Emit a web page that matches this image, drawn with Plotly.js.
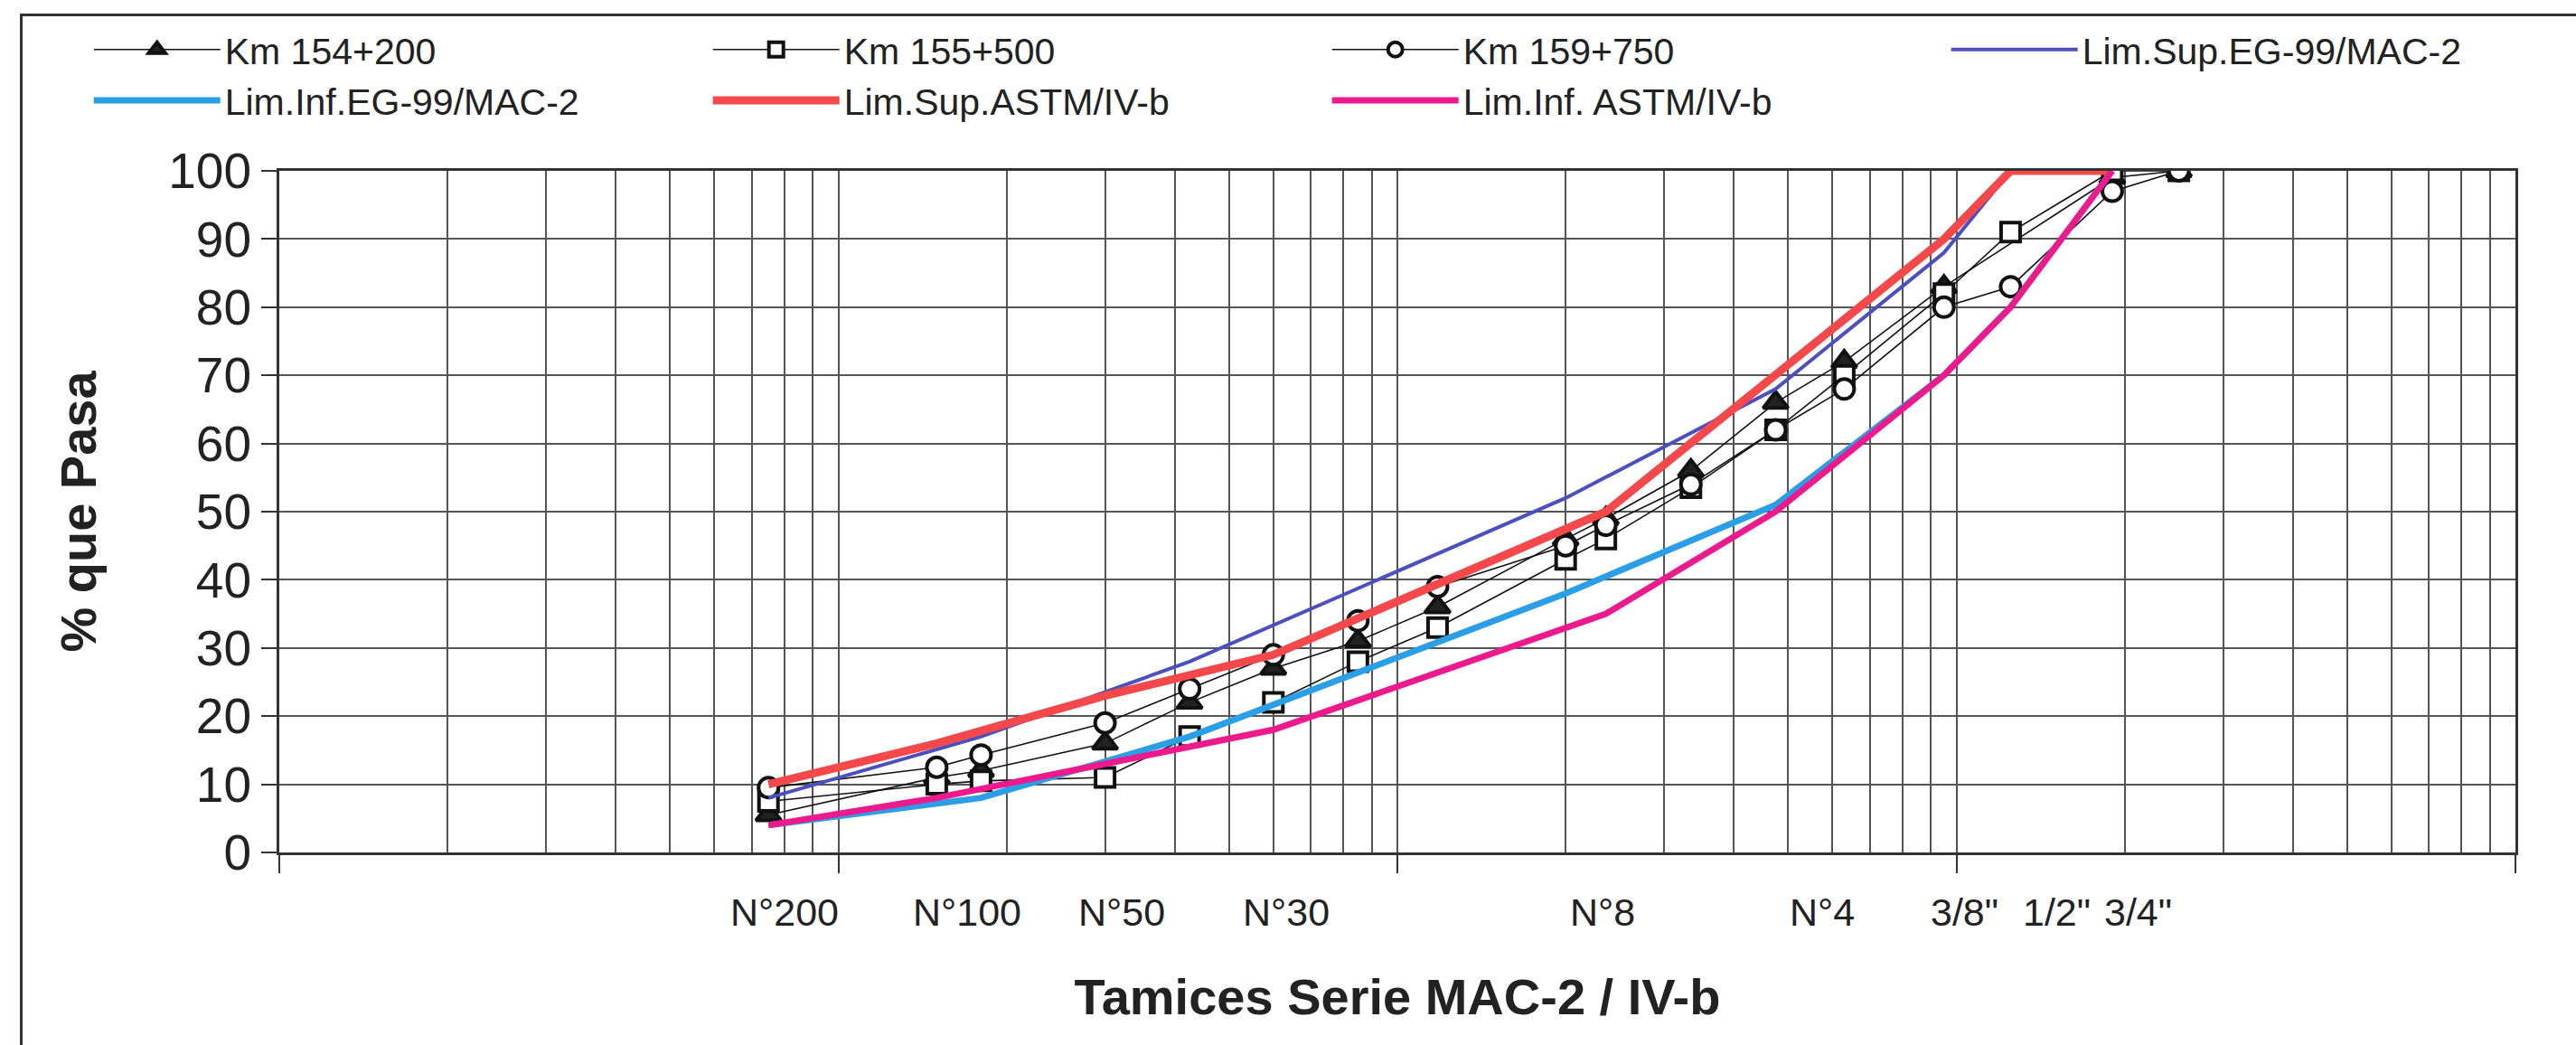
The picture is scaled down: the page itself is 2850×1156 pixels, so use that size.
<!DOCTYPE html>
<html><head><meta charset="utf-8">
<script src="https://cdn.plot.ly/plotly-3.0.1.min.js"></script>
<style>
html,body{margin:0;padding:0;background:#fff;}
#wrap{position:relative;width:2850px;height:1156px;overflow:hidden;}
#chart{width:2850px;height:1156px;}
#frame{position:absolute;left:22px;top:15px;width:2900px;height:1200px;border-left:3px solid #333;border-top:3px solid #333;pointer-events:none;}
</style></head><body>
<div id="wrap"><div id="chart"></div><div id="frame"></div></div>
<script>
// Sieve openings (mm) used by the test samples
const sieveNames = ['N°200','N°100','N°80','N°50','N°40','N°30','N°20','N°16','N°10','N°8','N°6','N°4','1/4"','3/8"','1/2"','3/4"','1"'];
const sieveMm    = [0.075, 0.15, 0.18, 0.3, 0.425, 0.6, 0.85, 1.18, 2.0, 2.36, 3.35, 4.75, 6.3, 9.5, 12.5, 19, 25];
// % passing for each sample
const km154200 = [5.5, 11, 12, 16, 22, 27, 31, 36, 46, 49, 56, 66, 72, 83, null, 99, 100];
const km155500 = [7.5, 10, 10.5, 11, 17, 22, 28, 33, 43, 46, 53.5, 62, 70, 82, 91, 100, 100];
const km159750 = [9.5, 12.5, 14.3, 19, 24, 29, 34, 39, 45, 48, 54, 62, 68, 80, 83, 97, 100];
// EG-99 MAC-2 limits
const egMm  = [0.075, 0.18, 0.425, 2.0, 4.75, 9.5, 12.5, 19];
const egSup = [8, 17, 28, 52, 68, 88, 100, 100];
const egInf = [4, 8, 17, 38, 51, 70, 80, 100];
// ASTM IV-b limits
const astmMm  = [0.075, 0.15, 0.3, 0.6, 2.36, 4.75, 9.5, 12.5, 19];
const astmSup = [10, 16, 23, 29, 50, 70, 90, 100, 100];
const astmInf = [4, 8, 13, 18, 35, 50, 70, 80, 100];
// Axis labels shown under the chart
const axisLabelText = ['N°200','N°100','N°50','N°30','N°8','N°4','3/8"','1/2"','3/4"'];
const axisLabelMm   = [0.075, 0.15, 0.3, 0.6, 2.36, 4.75, 9.5, 12.5, 19];
const yTicks = [0,10,20,30,40,50,60,70,80,90,100];

// style: horizontal nudge (px) of each hand-placed axis label
const labelNudgePx = [18, 34, 18, 14, -4, 51, 23, 51, 29];

const FONT = '"Liberation Sans", Arial, sans-serif';
const INK = '#222';

function sample(name, y, symbol, fill, size){
  return {type:'scatter', mode:'lines+markers', name:name, x:sieveMm, y:y, connectgaps:true,
    line:{color:'#111', width:1.6},
    marker:{symbol:symbol, size:size, color:fill, line:{color:'#111', width:4}}};
}
function limit(name, x, y, color, width){
  return {type:'scatter', mode:'lines', name:name, x:x, y:y, line:{color:color, width:width}};
}

const traces = [
  sample('Km 154+200', km154200, 'triangle-up', '#222', 24),
  sample('Km 155+500', km155500, 'square', '#fff', 21),
  sample('Km 159+750', km159750, 'circle', '#fff', 22),
  limit('Lim.Sup.EG-99/MAC-2', egMm, egSup, '#4b4fc0', 4),
  limit('Lim.Inf.EG-99/MAC-2', egMm, egInf, '#2a9fe6', 7),
  limit('Lim.Sup.ASTM/IV-b', astmMm, astmSup, '#f4484a', 9),
  limit('Lim.Inf. ASTM/IV-b', astmMm, astmInf, '#ec1a8c', 7)
];

const annotations = axisLabelText.map((t,i)=>({
  text:t, x:Math.log10(axisLabelMm[i]), xref:'x', y:0, yref:'paper', yshift:-66, xshift:labelNudgePx[i],
  showarrow:false, xanchor:'center', yanchor:'middle', font:{family:FONT, size:43, color:INK}
}));

const layout = {
  width:2850, height:1156,
  margin:{l:309, r:67, t:189, b:213},
  paper_bgcolor:'#fff', plot_bgcolor:'#fff',
  font:{family:FONT, color:INK},
  showlegend:true,
  legend:{orientation:'h', x:-0.085, xanchor:'left', y:1.222, yanchor:'top',
    font:{family:FONT, size:41, color:INK}, itemwidth:140, entrywidth:530, entrywidthmode:'pixels',
    tracegroupgap:0, bgcolor:'rgba(0,0,0,0)', traceorder:'normal'},
  xaxis:{type:'log', range:[-2,2], dtick:1, showticklabels:false,
    ticks:'outside', ticklen:20, tickwidth:2, tickcolor:'#333',
    showgrid:true, gridcolor:'#555', gridwidth:2,
    minor:{dtick:'D1', showgrid:true, gridcolor:'#555', gridwidth:2, ticks:''},
    showline:true, mirror:true, linecolor:'#333', linewidth:3, zeroline:false,
    title:{text:'Tamices Serie MAC-2 / IV-b', font:{family:FONT, size:56, color:INK, weight:'bold'}, standoff:118}},
  yaxis:{range:[0,100], tickvals:yTicks, ticks:'outside', ticklen:17, tickwidth:2, tickcolor:'#333',
    showgrid:true, gridcolor:'#555', gridwidth:2, zeroline:false,
    showline:true, mirror:true, linecolor:'#333', linewidth:3,
    tickfont:{family:FONT, size:55, color:INK},
    title:{text:'% que Pasa', font:{family:FONT, size:56, color:INK, weight:'bold'}, standoff:62}},
  annotations:annotations
};

Plotly.newPlot('chart', traces, layout, {staticPlot:true, displayModeBar:false});
</script>
</body></html>
